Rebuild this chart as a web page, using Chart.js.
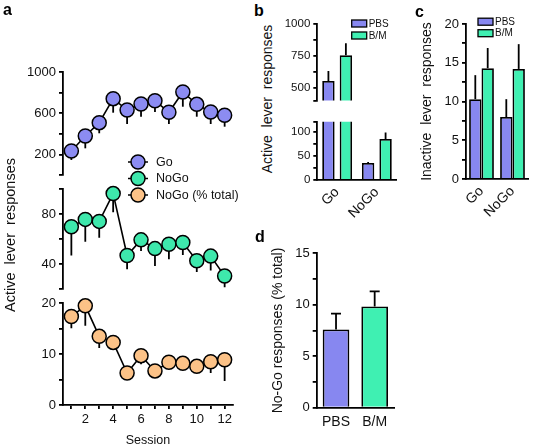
<!DOCTYPE html>
<html>
<head>
<meta charset="utf-8">
<script src="https://cdn.jsdelivr.net/npm/chart.js@4.4.1/dist/chart.umd.min.js"></script>
<style>
  html, body { margin: 0; padding: 0; background: #fff; }
  #fig { position: relative; width: 544px; height: 447px; overflow: hidden;
         font-family: 'Liberation Sans', Arial, sans-serif; color: #111; }
  #fig canvas { position: absolute; }
  .letter { position: absolute; font-weight: bold; font-size: 16px; line-height: 1;
            transform: translate(-50%, -50%); color: #000; }
  .vtitle { position: absolute; white-space: pre; line-height: 1;
            transform: translate(-50%, -50%) rotate(-90deg); }
</style>
</head>
<body>
<div id="fig"></div>
<script>
// ---- data ----
const sessions = [1, 2, 3, 4, 5, 6, 7, 8, 9, 10, 11, 12];
const seriesNames = ['Go', 'NoGo', 'NoGo (% total)'];
const goMean = [233, 379, 508, 741, 631, 689, 721, 609, 806, 686, 612, 580];
const goSem = [87, 120, 103, 136, 136, 123, 109, 114, 143, 120, 117, 111];
const noGoMean = [70, 75.9, 74.3, 96.6, 47, 59.5, 52.5, 56, 57.4, 42.8, 46.5, 30.6];
const noGoSem = [23, 18, 13, 15, 11, 9, 14, 12, 10, 9, 11.5, 9];
const pctMean = [17.4, 19.5, 13.5, 12.3, 6.3, 9.7, 6.7, 8.4, 8.2, 7.6, 8.5, 8.9];
const pctSem = [2.3, 3.9, 2.3, 1.0, 1.0, 1.7, 1.0, 1.0, 1.0, 1.0, 2.2, 4.2];

const groups = ['Go', 'NoGo'];
const treatments = ['PBS', 'B/M'];
const activePBS = [553, 35];
const activePBSErr = [78, 2];
const activeBM = [755, 84.4];
const activeBMErr = [94, 13.6];
const inactivePBS = [10.3, 8.0];
const inactivePBSErr = [3.1, 2.3];
const inactiveBM = [14.3, 14.2];
const inactiveBMErr = [2.6, 3.2];
const noGoPct = [7.6, 9.83];
const noGoPctErr = [1.53, 1.47];

// ---- styles ----
const goColor = '#8c8cf2';
const noGoColor = '#3ee8ac';
const pctColor = '#fcc287';
const pbsColor = '#8787f0';
const bmColor = '#3ff0b2';
const ink = '#000';
const lw = 1.8;

Chart.defaults.font.family = "'Liberation Sans', Arial, sans-serif";
Chart.defaults.color = '#111';

const fig = document.getElementById('fig');

function makeCanvas(left, top, w, h) {
  const c = document.createElement('canvas');
  c.width = w; c.height = h;
  c.style.left = left + 'px'; c.style.top = top + 'px';
  c.style.width = w + 'px'; c.style.height = h + 'px';
  fig.appendChild(c);
  return c;
}

function addDiv(cls, text, x, y, size) {
  const d = document.createElement('div');
  d.className = cls;
  d.textContent = text;
  d.style.left = x + 'px'; d.style.top = y + 'px';
  if (size) d.style.fontSize = size + 'px';
  fig.appendChild(d);
}

// error bars drawn through the chart scales
function drawErrors(chart, when) {
  const { ctx, chartArea } = chart;
  ctx.save();
  ctx.beginPath();
  ctx.rect(chartArea.left - 1, chartArea.top - 1, chartArea.width + 2, chartArea.height + 2);
  ctx.clip();
  ctx.strokeStyle = ink;
  ctx.lineWidth = lw;
  chart.data.datasets.forEach((ds, i) => {
    if (!ds.errors) return;
    const down = ds.errorDir === 'down';
    if ((when === 'before') !== down) return;
    const meta = chart.getDatasetMeta(i);
    const ys = chart.scales[meta.yAxisID];
    meta.data.forEach((el, j) => {
      const v = ds.data[j], e = ds.errors[j];
      const y0 = ys.getPixelForValue(v);
      const y1 = ys.getPixelForValue(down ? v - e : v + e);
      ctx.beginPath();
      ctx.moveTo(el.x, y0);
      ctx.lineTo(el.x, y1);
      if (ds.errorCap) {
        ctx.moveTo(el.x - ds.errorCap, y1);
        ctx.lineTo(el.x + ds.errorCap, y1);
      }
      ctx.stroke();
    });
  });
  ctx.restore();
}

const errorBars = {
  id: 'errorBars',
  beforeDatasetsDraw(chart) { drawErrors(chart, 'before'); },
  afterDatasetsDraw(chart) { drawErrors(chart, 'after'); }
};

// small box legend for the bar panels
const boxLegend = {
  id: 'boxLegend',
  afterDraw(chart, args, o) {
    const ctx = chart.ctx;
    ctx.save();
    ctx.font = o.size + "px 'Liberation Sans', Arial, sans-serif";
    ctx.textBaseline = 'middle';
    chart.data.datasets.forEach((ds, i) => {
      const y = o.y + i * o.gap;
      ctx.fillStyle = ds.backgroundColor;
      ctx.fillRect(o.x, y - 3.5, 15, 7);
      ctx.strokeStyle = ink;
      ctx.lineWidth = 1.3;
      ctx.strokeRect(o.x, y - 3.5, 15, 7);
      ctx.fillStyle = '#111';
      ctx.fillText(ds.label, o.x + 17, y + 0.5);
    });
    ctx.restore();
  }
};

// circle legend for panel a
const dotLegend = {
  id: 'dotLegend',
  afterDraw(chart, args, o) {
    const ctx = chart.ctx;
    ctx.save();
    ctx.font = o.size + "px 'Liberation Sans', Arial, sans-serif";
    ctx.textBaseline = 'middle';
    o.items.forEach((it, i) => {
      const y = o.y + i * o.gap;
      ctx.strokeStyle = ink;
      ctx.lineWidth = 1.5;
      ctx.beginPath();
      ctx.moveTo(o.x - 10, y); ctx.lineTo(o.x + 10, y);
      ctx.stroke();
      ctx.beginPath();
      ctx.arc(o.x, y, 7, 0, Math.PI * 2);
      ctx.fillStyle = it.color;
      ctx.fill();
      ctx.stroke();
      ctx.fillStyle = '#111';
      ctx.fillText(it.label, o.x + 18, y + 0.5);
    });
    ctx.restore();
  }
};

function yAxis(o) {
  return {
    min: o.min, max: o.max,
    afterBuildTicks: s => { s.ticks = o.ticks.map(v => ({ value: v })); },
    afterFit: s => { s.width = o.width; },
    border: { display: true, color: ink, width: lw },
    grid: { drawOnChartArea: false, drawTicks: true, tickLength: 4, color: ink, lineWidth: lw },
    ticks: { autoSkip: false, padding: 3, font: { size: o.size }, color: '#111',
             callback: v => (o.labels.includes(v) ? String(v) : '') },
    title: o.title
      ? { display: true, text: o.title, color: '#111', font: { size: 14 },
          padding: { top: o.titlePad, bottom: 0 } }
      : { display: false }
  };
}

const hiddenX = { type: 'linear', min: 0.4, max: 12.6, display: false };

function lineSet(label, data, errors, color) {
  return {
    label, data, errors, errorDir: 'down',
    borderColor: ink, borderWidth: 1.6, tension: 0,
    pointRadius: 7, pointHoverRadius: 7,
    pointBackgroundColor: color, pointBorderColor: ink, pointBorderWidth: 1.5,
    clip: false
  };
}

function barSet(label, data, errors, color, cap) {
  return {
    label, data, errors, errorDir: 'up', errorCap: cap || 0,
    backgroundColor: color, borderColor: ink, borderWidth: lw,
    borderSkipped: 'start', clip: 0
  };
}

const base = { animation: false, responsive: false, events: [] };

// ---- panel a: Go ----
new Chart(makeCanvas(0, 60, 245, 150), {
  type: 'line',
  data: { labels: sessions, datasets: [lineSet(seriesNames[0], goMean, goSem, goColor)] },
  options: {
    ...base,
    layout: { padding: { left: 0, top: 12, right: 12, bottom: 35 } },
    plugins: {
      legend: { display: false }, tooltip: { enabled: false },
      dotLegend: { x: 138, y: 102, gap: 16.5, size: 12.5,
                   items: seriesNames.map((n, i) => ({ label: n, color: [goColor, noGoColor, pctColor][i] })) }
    },
    scales: {
      x: hiddenX,
      y: yAxis({ min: 0, max: 1000, ticks: [0, 200, 400, 600, 800, 1000],
                 labels: [200, 600, 1000], width: 63, size: 13 })
    }
  },
  plugins: [errorBars, dotLegend]
});

// ---- panel a: NoGo ----
new Chart(makeCanvas(0, 175, 245, 125), {
  type: 'line',
  data: { labels: sessions, datasets: [lineSet(seriesNames[1], noGoMean, noGoSem, noGoColor)] },
  options: {
    ...base,
    layout: { padding: { left: 0, top: 14.3, right: 12, bottom: 9 } },
    plugins: { legend: { display: false }, tooltip: { enabled: false } },
    scales: {
      x: hiddenX,
      y: yAxis({ min: 20, max: 100, ticks: [20, 40, 60, 80, 100],
                 labels: [40, 80], width: 63, size: 13 })
    }
  },
  plugins: [errorBars]
});

// ---- panel a: NoGo (% total) ----
new Chart(makeCanvas(0, 290, 245, 160), {
  type: 'line',
  data: { labels: sessions, datasets: [lineSet(seriesNames[2], pctMean, pctSem, pctColor)] },
  options: {
    ...base,
    layout: { padding: { left: 0, top: 13.3, right: 12, bottom: 0 } },
    plugins: { legend: { display: false }, tooltip: { enabled: false } },
    scales: {
      x: {
        type: 'linear', min: 0.4, max: 12.6, position: 'bottom',
        afterBuildTicks: s => { s.ticks = sessions.map(v => ({ value: v })); },
        afterFit: s => { s.height = 45; },
        border: { display: true, color: ink, width: lw },
        grid: { drawOnChartArea: false, tickLength: 4, color: ink, lineWidth: lw },
        ticks: { autoSkip: false, maxRotation: 0, padding: 3, font: { size: 13 }, color: '#111',
                 callback: v => (v % 2 === 0 ? String(v) : '') },
        title: { display: true, text: 'Session', color: '#111', font: { size: 12.5 },
                 padding: { top: 0, bottom: 2 } }
      },
      y: yAxis({ min: 0, max: 20, ticks: [0, 5, 10, 15, 20],
                 labels: [0, 10, 20], width: 63, size: 13 })
    }
  },
  plugins: [errorBars]
});

// ---- panel b: top part (broken axis) ----
new Chart(makeCanvas(280, 0, 125, 112), {
  type: 'bar',
  data: { labels: groups, datasets: [
    barSet(treatments[0], activePBS, activePBSErr, pbsColor),
    barSet(treatments[1], activeBM, activeBMErr, bmColor)
  ] },
  options: {
    ...base,
    layout: { padding: { left: 0, top: 24, right: 8.3, bottom: 11.6 } },
    datasets: { bar: { categoryPercentage: 0.88, barPercentage: 0.71 } },
    plugins: { legend: { display: false }, tooltip: { enabled: false },
               boxLegend: { x: 71.7, y: 23.5, gap: 12, size: 10 } },
    scales: {
      x: { display: false },
      y: yAxis({ min: 400, max: 1000, ticks: [400, 500, 625, 750, 875, 1000],
                 labels: [500, 750, 1000], width: 37.3, size: 11.5 })
    }
  },
  plugins: [errorBars, boxLegend]
});

// ---- panel b: bottom part ----
new Chart(makeCanvas(280, 105, 125, 125), {
  type: 'bar',
  data: { labels: groups, datasets: [
    barSet(treatments[0], activePBS, activePBSErr, pbsColor),
    barSet(treatments[1], activeBM, activeBMErr, bmColor)
  ] },
  options: {
    ...base,
    layout: { padding: { left: 0, top: 16.7, right: 8.3, bottom: 0 } },
    datasets: { bar: { categoryPercentage: 0.88, barPercentage: 0.71 } },
    plugins: { legend: { display: false }, tooltip: { enabled: false } },
    scales: {
      x: {
        afterFit: s => { s.height = 50; },
        border: { display: true, color: ink, width: lw },
        grid: { display: false, drawTicks: false },
        ticks: { autoSkip: false, minRotation: 45, maxRotation: 45, padding: 4,
                 font: { size: 14 }, color: '#111' }
      },
      y: yAxis({ min: 0, max: 120, ticks: [0, 25, 50, 75, 100, 120],
                 labels: [0, 50, 100], width: 37.3, size: 11.5 })
    }
  },
  plugins: [errorBars]
});

// ---- panel c ----
new Chart(makeCanvas(410, 0, 134, 230), {
  type: 'bar',
  data: { labels: groups, datasets: [
    barSet(treatments[0], inactivePBS, inactivePBSErr, pbsColor),
    barSet(treatments[1], inactiveBM, inactiveBMErr, bmColor)
  ] },
  options: {
    ...base,
    layout: { padding: { left: 0, top: 24, right: 16, bottom: 0 } },
    datasets: { bar: { categoryPercentage: 0.8, barPercentage: 1.0 } },
    plugins: { legend: { display: false }, tooltip: { enabled: false },
               boxLegend: { x: 68, y: 21.7, gap: 11.5, size: 10 } },
    scales: {
      x: {
        afterFit: s => { s.height = 51; },
        border: { display: true, color: ink, width: lw },
        grid: { display: false, drawTicks: false },
        ticks: { autoSkip: false, minRotation: 45, maxRotation: 45, padding: 4,
                 font: { size: 14 }, color: '#111' }
      },
      y: yAxis({ min: 0, max: 20, ticks: [0, 2.5, 5, 7.5, 10, 12.5, 15, 17.5, 20],
                 labels: [0, 5, 10, 15, 20], width: 56, size: 13,
                 title: 'Inactive  lever  responses', titlePad: 8.3 })
    }
  },
  plugins: [errorBars, boxLegend]
});

// ---- panel d ----
new Chart(makeCanvas(260, 225, 140, 222), {
  type: 'bar',
  data: { labels: treatments, datasets: [
    Object.assign(barSet('No-Go', noGoPct, noGoPctErr, [pbsColor, bmColor], 5),
                  { categoryPercentage: 1, barPercentage: 0.69 })
  ] },
  options: {
    ...base,
    layout: { padding: { left: 0, top: 28.3, right: 6, bottom: 0 } },
    plugins: { legend: { display: false }, tooltip: { enabled: false } },
    scales: {
      x: {
        afterFit: s => { s.height = 39.3; },
        border: { display: true, color: ink, width: lw },
        grid: { display: false, drawTicks: false },
        ticks: { autoSkip: false, maxRotation: 0, padding: 6, font: { size: 14 }, color: '#111' }
      },
      y: yAxis({ min: 0, max: 15, ticks: [0, 2.5, 5, 7.5, 10, 12.5, 15],
                 labels: [0, 5, 10, 15], width: 56.7, size: 13,
                 title: 'No-Go responses (% total)', titlePad: 9.6 })
    }
  },
  plugins: [errorBars]
});

// ---- titles spanning split axes, panel letters ----
addDiv('vtitle', 'Active  lever  responses', 10, 235, 14.5);
addDiv('vtitle', 'Active  lever  responses', 267, 99, 14);
addDiv('letter', 'a', 7.5, 10);
addDiv('letter', 'b', 259, 11);
addDiv('letter', 'c', 419.5, 12);
addDiv('letter', 'd', 260, 237);
</script>
</body>
</html>
